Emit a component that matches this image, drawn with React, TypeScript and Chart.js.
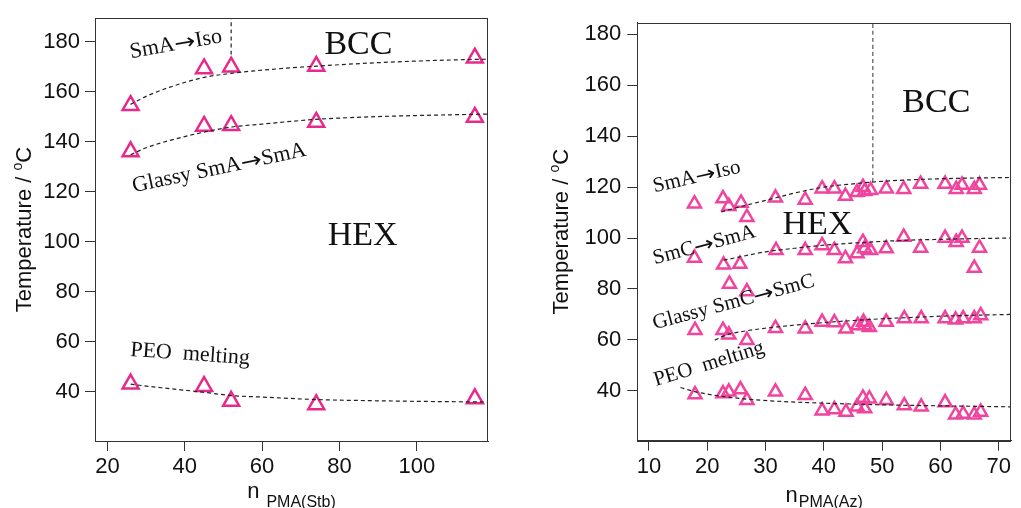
import React, { useEffect, useRef } from 'react';
import { Chart, registerables } from 'chart.js';

Chart.register(...registerables);

// ---------- Left panel: n PMA(Stb) ----------
const leftN = [26, 45, 52, 74, 115];
const leftSmAIso = [154.6, 169.3, 170.0, 170.3, 173.6];
const leftGlassySmA = [136.1, 146.3, 146.6, 147.9, 149.9];
const leftPEO = [43.1, 42.1, 36.2, 34.8, 37.2];

const leftFitN = [26, 30, 36, 45, 52, 60, 74, 90, 105, 118.4];
const leftFitSmAIso = [155.0, 158.2, 161.8, 165.8, 167.4, 168.7, 170.3, 171.7, 172.6, 173.1];
const leftFitGlassy = [134.8, 137.6, 140.5, 143.9, 145.9, 147.1, 149.0, 150.1, 150.7, 151.1];
const leftFitPEO = [43.0, 42.2, 41.2, 39.7, 38.4, 37.8, 36.8, 36.3, 36.0, 35.8];

const leftBoundaryN = [52, 52];
const leftBoundaryT = [175, 189.5];

const leftXTicks = [20, 40, 60, 80, 100];

// ---------- Right panel: n PMA(Az) ----------
const rightNSmAIso = [17.8, 22.7, 23.7, 25.8, 26.8, 31.7, 36.8, 39.7, 41.8, 43.7, 45.7, 46.7, 47.0, 48.0, 50.7, 53.7, 56.6, 60.8, 62.7, 63.7, 65.8, 66.7];
const rightSmAIso = [113.5, 115.5, 112.5, 113.8, 108.2, 115.8, 115.0, 119.4, 119.4, 116.5, 118.0, 120.0, 118.4, 118.8, 119.4, 119.2, 121.2, 121.2, 119.2, 120.8, 119.2, 120.8];

const rightNSmCSmA = [17.8, 22.8, 23.8, 25.6, 26.8, 31.8, 36.8, 39.7, 41.8, 43.7, 45.7, 46.7, 47.0, 48.0, 50.7, 53.7, 56.6, 60.8, 62.7, 63.7, 65.8, 66.7];
const rightSmCSmA = [92.2, 89.5, 82.0, 89.8, 79.0, 95.2, 95.2, 97.1, 95.2, 92.0, 93.9, 98.4, 95.9, 95.2, 95.9, 100.4, 96.1, 100.0, 98.4, 100.0, 88.2, 96.1];

const rightNGlassy = [17.9, 22.7, 23.7, 26.8, 31.7, 36.8, 39.7, 41.8, 43.8, 45.8, 46.8, 47.0, 47.8, 50.7, 53.8, 56.7, 60.8, 62.6, 63.9, 65.8, 66.9];
const rightGlassy = [63.8, 63.8, 62.0, 59.9, 64.6, 64.4, 67.0, 66.8, 64.4, 65.7, 67.0, 65.8, 65.0, 67.0, 68.4, 68.4, 68.4, 67.9, 68.4, 68.4, 69.6];

const rightNPEO = [17.9, 22.7, 23.7, 25.7, 26.8, 31.7, 36.8, 39.7, 41.8, 43.8, 45.7, 46.7, 47.0, 47.8, 50.7, 53.8, 56.7, 60.8, 62.6, 63.9, 65.8, 66.9];
const rightPEO = [38.5, 38.9, 39.6, 40.5, 36.3, 39.6, 38.3, 32.2, 32.7, 31.7, 33.7, 37.2, 33.0, 36.9, 36.3, 34.2, 33.7, 35.4, 30.6, 30.9, 30.6, 31.7];

const rightFitNSmAIso = [22.4, 26, 30, 35, 40, 45, 50, 55, 60, 66, 72.1];
const rightFitSmAIso = [110.3, 112.5, 114.8, 117.7, 120.0, 121.3, 122.3, 122.9, 123.3, 123.6, 123.8];
const rightFitNSmCSmA = [22.8, 26, 30, 35, 40, 45, 50, 55, 60, 66, 72.1];
const rightFitSmCSmA = [91.3, 92.8, 94.6, 96.0, 97.2, 98.0, 98.7, 99.2, 99.5, 99.8, 100.0];
const rightFitNGlassy = [21.3, 23, 26, 30, 35, 40, 45, 50, 55, 60, 66, 72.1];
const rightFitGlassy = [59.9, 61.8, 63.3, 64.6, 65.8, 66.8, 67.6, 68.3, 68.8, 69.3, 69.7, 70.0];
const rightFitNPEO = [15.4, 18, 22, 27, 32, 38, 45, 52, 60, 66, 72.1];
const rightFitPEO = [41.3, 39.6, 38.0, 36.7, 35.9, 35.3, 34.8, 34.4, 34.1, 33.9, 33.7];

const rightBoundaryN = [48.4, 48.4];
const rightBoundaryT = [122, 184.6];

const rightXTicks = [10, 20, 30, 40, 50, 60, 70];
const yTicks = [40, 60, 80, 100, 120, 140, 160, 180];

const SANS = '"Liberation Sans", Arial, Helvetica, sans-serif';
const SERIF = '"Liberation Serif", "Times New Roman", "DejaVu Serif", serif';
const ARROW_FONT = '"DejaVu Sans", "DejaVu Serif", sans-serif';

const leftLabels = [
  { text: 'SmA→Iso', x: 37.7, y: 179, size: 22, rot: -10 },
  { text: 'BCC', x: 84.9, y: 178.8, size: 34, rot: 0 },
  { text: 'Glassy SmA→SmA', x: 48.9, y: 129.4, size: 22, rot: -12 },
  { text: 'HEX', x: 86, y: 102.2, size: 34, rot: 0 },
  { text: 'PEO  melting', x: 41.4, y: 54.9, size: 22, rot: 4 },
];

const rightLabels = [
  { text: 'SmA→Iso', x: 18.2, y: 124, size: 21, rot: -13 },
  { text: 'BCC', x: 59.3, y: 152.9, size: 34, rot: 0 },
  { text: 'HEX', x: 38.9, y: 105.1, size: 34, rot: 0 },
  { text: 'SmC→SmA', x: 19.5, y: 97.2, size: 21, rot: -15 },
  { text: 'Glassy SmC→SmC', x: 24.5, y: 74.7, size: 21, rot: -15 },
  { text: 'PEO  melting', x: 20.3, y: 50.5, size: 21, rot: -17 },
];

const zip = (xs: number[], ys: number[]) => xs.map((x, i) => ({ x, y: ys[i] }));

function markerSet(xs: number[], ys: number[], color: string, r: number) {
  return {
    data: zip(xs, ys),
    showLine: false,
    pointStyle: 'triangle',
    pointRadius: r,
    pointBorderWidth: 2.5,
    pointBorderColor: color,
    pointBackgroundColor: 'rgba(0,0,0,0)',
    borderColor: color,
    backgroundColor: 'rgba(0,0,0,0)',
  };
}

function fitSet(xs: number[], ys: number[], color = '#222') {
  return {
    data: zip(xs, ys),
    showLine: true,
    pointRadius: 0,
    borderColor: color,
    borderWidth: 1.2,
    borderDash: [4, 3],
    cubicInterpolationMode: 'monotone',
    fill: false,
  };
}

type Label = { text: string; x: number; y: number; size: number; rot: number };

type PanelCfg = {
  width: number;
  height: number;
  padTop: number;
  padRight: number;
  yAxisWidth: number;
  xAxisHeight: number;
  xMin: number;
  xMax: number;
  yMin: number;
  yMax: number;
  xTicks: number[];
  datasets: any[];
  labels: Label[];
  sub: string;
  subGap: number;
  nBaseline: number;
  subBaseline: number;
  yTitleX: number;
  tickPad: number;
};

// draws a label centred at (0,0); the arrow glyph is taken from a font with a proper arrow
function drawLabel(ctx: CanvasRenderingContext2D, l: Label) {
  const parts = l.text.split('→');
  const textFont = `${l.size}px ${SERIF}`;
  const arrowFont = `${l.size}px ${ARROW_FONT}`;
  const arrowScale = 1.15;
  const pieces: { s: string; font: string; w: number; sx: number }[] = [];
  parts.forEach((p, i) => {
    if (i > 0) {
      ctx.font = arrowFont;
      pieces.push({ s: '→', font: arrowFont, w: ctx.measureText('→').width * arrowScale, sx: arrowScale });
    }
    ctx.font = textFont;
    pieces.push({ s: p, font: textFont, w: ctx.measureText(p).width, sx: 1 });
  });
  const total = pieces.reduce((acc, p) => acc + p.w, 0);
  let x = -total / 2;
  ctx.textAlign = 'left';
  ctx.textBaseline = 'middle';
  for (const p of pieces) {
    ctx.font = p.font;
    if (p.sx !== 1) {
      ctx.save();
      ctx.translate(x, 0);
      ctx.scale(p.sx, 1);
      ctx.fillText(p.s, 0, 1);
      ctx.restore();
    } else {
      ctx.fillText(p.s, x, 0);
    }
    x += p.w;
  }
}

function makePlugin(cfg: PanelCfg) {
  return {
    id: 'panelDecor',
    afterDatasetsDraw(chart: any) {
      const { ctx, chartArea: a, scales } = chart;
      ctx.save();
      // frame
      ctx.strokeStyle = '#333';
      ctx.lineWidth = 1;
      ctx.setLineDash([]);
      ctx.strokeRect(Math.round(a.left) + 0.5, Math.round(a.top) + 0.5, Math.round(a.right - a.left) - 1, Math.round(a.bottom - a.top));
      // labels
      ctx.fillStyle = '#111';
      for (const l of cfg.labels) {
        const px = scales.x.getPixelForValue(l.x);
        const py = scales.y.getPixelForValue(l.y);
        ctx.save();
        ctx.translate(px, py);
        ctx.rotate((l.rot * Math.PI) / 180);
        drawLabel(ctx, l);
        ctx.restore();
      }
      // x title: n + subscript
      ctx.textBaseline = 'alphabetic';
      ctx.textAlign = 'left';
      const bigFont = `22px ${SANS}`;
      const subFont = `16px ${SANS}`;
      ctx.font = bigFont;
      const wN = ctx.measureText('n').width;
      ctx.font = subFont;
      const wS = ctx.measureText(cfg.sub).width;
      const total = wN + cfg.subGap + wS;
      const cx = (a.left + a.right) / 2;
      const x0 = cx - total / 2;
      ctx.font = bigFont;
      ctx.fillText('n', x0, cfg.nBaseline);
      ctx.font = subFont;
      ctx.fillText(cfg.sub, x0 + wN + cfg.subGap, cfg.subBaseline);
      // y title with superscript o
      const mainFont = `22px ${SANS}`;
      const supFont = `14px ${SANS}`;
      ctx.font = mainFont;
      const part1 = 'Temperature / ';
      const w1 = ctx.measureText(part1).width;
      const wC = ctx.measureText('C').width;
      ctx.font = supFont;
      const wo = ctx.measureText('o').width;
      const tw = w1 + wo + wC;
      const cy = (a.top + a.bottom) / 2;
      ctx.save();
      ctx.translate(cfg.yTitleX, cy);
      ctx.rotate(-Math.PI / 2);
      const s0 = -tw / 2;
      ctx.font = mainFont;
      ctx.fillText(part1, s0, 0);
      ctx.font = supFont;
      ctx.fillText('o', s0 + w1, -9);
      ctx.font = mainFont;
      ctx.fillText('C', s0 + w1 + wo, 0);
      ctx.restore();
      ctx.restore();
    },
  };
}

function Panel({ cfg }: { cfg: PanelCfg }) {
  const ref = useRef<HTMLCanvasElement | null>(null);
  useEffect(() => {
    if (!ref.current) return;
    const axisColor = '#333';
    const chart = new Chart(ref.current, {
      type: 'scatter',
      data: { datasets: cfg.datasets },
      options: {
        responsive: false,
        maintainAspectRatio: false,
        animation: false,
        layout: { padding: { top: cfg.padTop, right: cfg.padRight, bottom: 0, left: 0 } },
        plugins: { legend: { display: false }, tooltip: { enabled: false } },
        scales: {
          x: {
            type: 'linear',
            min: cfg.xMin,
            max: cfg.xMax,
            afterBuildTicks: (s: any) => {
              s.ticks = cfg.xTicks.map((v) => ({ value: v }));
            },
            afterFit: (s: any) => {
              s.height = cfg.xAxisHeight;
            },
            grid: { display: true, drawOnChartArea: false, drawTicks: true, tickLength: 10, color: axisColor },
            border: { display: true, color: axisColor, width: 1 },
            ticks: { font: { family: SANS, size: 22 }, color: '#111', padding: 3, maxRotation: 0, autoSkip: false },
          },
          y: {
            type: 'linear',
            min: cfg.yMin,
            max: cfg.yMax,
            afterBuildTicks: (s: any) => {
              s.ticks = yTicks.map((v) => ({ value: v }));
            },
            afterFit: (s: any) => {
              s.width = cfg.yAxisWidth;
            },
            grid: { display: true, drawOnChartArea: false, drawTicks: true, tickLength: 10, color: axisColor },
            border: { display: true, color: axisColor, width: 1 },
            ticks: { font: { family: SANS, size: 22 }, color: '#111', padding: cfg.tickPad, autoSkip: false },
          },
        },
      } as any,
      plugins: [makePlugin(cfg)],
    });
    return () => chart.destroy();
  }, [cfg]);
  return <canvas ref={ref} width={cfg.width} height={cfg.height} style={{ width: cfg.width, height: cfg.height, display: 'block' }} />;
}

const LEFT_COLOR = '#e8298c';
const RIGHT_COLOR = '#f0449e';

const leftCfg: PanelCfg = {
  width: 510,
  height: 508,
  padTop: 13,
  padRight: 22,
  yAxisWidth: 95,
  xAxisHeight: 67,
  xMin: 16.8,
  xMax: 118.4,
  yMin: 20.2,
  yMax: 189.5,
  xTicks: leftXTicks,
  datasets: [
    fitSet(leftFitN, leftFitSmAIso),
    fitSet(leftFitN, leftFitGlassy),
    fitSet(leftFitN, leftFitPEO),
    fitSet(leftBoundaryN, leftBoundaryT),
    markerSet(leftN, leftSmAIso, LEFT_COLOR, 9.2),
    markerSet(leftN, leftGlassySmA, LEFT_COLOR, 9.2),
    markerSet(leftN, leftPEO, LEFT_COLOR, 9.2),
  ],
  labels: leftLabels,
  sub: 'PMA(Stb)',
  subGap: 7,
  nBaseline: 498,
  subBaseline: 506.5,
  yTitleX: 31,
  tickPad: 5,
};

const rightCfg: PanelCfg = {
  width: 511,
  height: 508,
  padTop: 22.7,
  padRight: 1,
  yAxisWidth: 127.3,
  xAxisHeight: 67.3,
  xMin: 8,
  xMax: 72.1,
  yMin: 20.4,
  yMax: 184.6,
  xTicks: rightXTicks,
  datasets: [
    fitSet(rightFitNSmAIso, rightFitSmAIso),
    fitSet(rightFitNSmCSmA, rightFitSmCSmA),
    fitSet(rightFitNGlassy, rightFitGlassy),
    fitSet(rightFitNPEO, rightFitPEO),
    fitSet(rightBoundaryN, rightBoundaryT, '#555'),
    markerSet(rightNSmAIso, rightSmAIso, RIGHT_COLOR, 7.5),
    markerSet(rightNSmCSmA, rightSmCSmA, RIGHT_COLOR, 7.5),
    markerSet(rightNGlassy, rightGlassy, RIGHT_COLOR, 7.5),
    markerSet(rightNPEO, rightPEO, RIGHT_COLOR, 7.5),
  ],
  labels: rightLabels,
  sub: 'PMA(Az)',
  subGap: 1,
  nBaseline: 501.5,
  subBaseline: 507.4,
  yTitleX: 58,
  tickPad: 6,
};

export default function App() {
  return (
    <div style={{ position: 'fixed', left: 0, top: 0, width: 1021, height: 508, background: '#fff', overflow: 'hidden' }}>
      <div style={{ position: 'absolute', left: 0, top: 0 }}>
        <Panel cfg={leftCfg} />
      </div>
      <div style={{ position: 'absolute', left: 510, top: 0 }}>
        <Panel cfg={rightCfg} />
      </div>
    </div>
  );
}
